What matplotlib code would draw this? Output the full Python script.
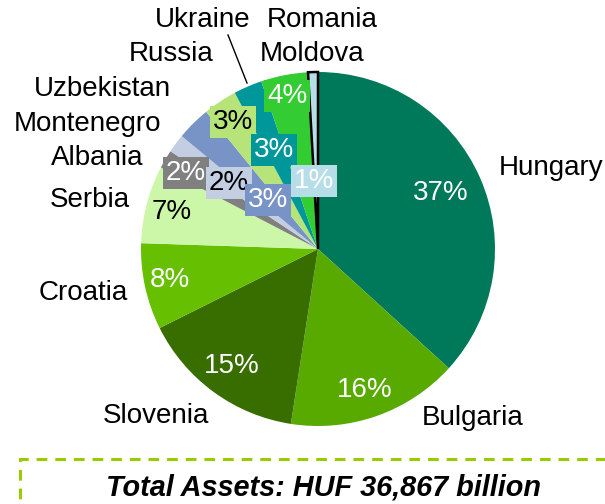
import matplotlib
matplotlib.use('Agg')
import matplotlib.pyplot as plt
from matplotlib.patches import Rectangle

plt.rcParams['font.family'] = ['Liberation Sans', 'DejaVu Sans']

# data (share of total assets, %)
countries = ['Hungary', 'Bulgaria', 'Slovenia', 'Croatia', 'Serbia', 'Albania',
             'Montenegro', 'Uzbekistan', 'Russia', 'Ukraine', 'Romania', 'Moldova']
shares = [36.8, 15.7, 15.2, 7.9, 7.1, 1.7, 1.7, 3.1, 3.1, 2.6, 4.3, 0.9]
total_text = 'Total Assets: HUF 36,867 billion'

colors = ['#00785A', '#58AA00', '#386E00', '#66BF00', '#CCF7A8', '#808080',
          '#C3CEE2', '#7893C6', '#B6E478', '#00979A', '#33CC33', '#B7DEE8']
pct_colors = ['white', 'white', 'white', 'white', 'black', 'white',
              'black', 'white', 'black', 'white', 'white', 'white']
boxed = [False, False, False, False, False, True, True, True, True, True, True, True]

# label positions in pixels (x from left, y from top)
pct_pos = [(441, 193), (365, 390), (232, 366), (170, 280), (172, 212), (186, 173),
           (229, 183), (268, 200), (233, 122), (274, 150), (287, 96), (314, 181)]
name_pos = [(551, 168), (473, 418), (156, 416), (83, 293), (90, 200), (97, 158),
            (88, 124), (102, 89), (171, 54), (203, 20), (322, 20), (312, 54)]

W, H = 605, 504
cx, cy, R = 318, 249, 177


def px(x, y):
    return (x - cx) / R, (cy - y) / R


fig = plt.figure(figsize=(W / 100, H / 100), dpi=100)
ax = fig.add_axes([0, 0, 1, 1])

wedges, _ = ax.pie(shares, colors=colors, startangle=90, counterclock=False,
                   radius=1, wedgeprops=dict(linewidth=0))
wedges[-1].set_edgecolor('black')
wedges[-1].set_linewidth(1.8)

total = sum(shares)
for i, s in enumerate(shares):
    x, y = px(*pct_pos[i])
    bbox = dict(boxstyle='square,pad=0.12', fc=colors[i], ec='none') if boxed[i] else None
    ax.text(x, y, '%.0f%%' % (s / total * 100), ha='center', va='center',
            fontsize=20, color=pct_colors[i], bbox=bbox)
    nx, ny = px(*name_pos[i])
    ax.text(nx, ny, countries[i], ha='center', va='center', fontsize=20, color='black')

# leader line for Ukraine
ax.plot(*zip(px(228, 35), px(247, 83)), color='black', lw=1)

# dashed box with total
x0, y0 = px(20, 459)
x1, y1 = px(640, 540)
ax.add_patch(Rectangle((x0, y1), x1 - x0, y0 - y1, fill=False, ec='#99CC00',
                       lw=2.2, ls=(0, (3.5, 2.6)), clip_on=False))
tx, ty = px(323, 487)
ax.text(tx, ty, total_text, ha='center', va='center', fontsize=20.8,
        fontweight='bold', fontstyle='italic')

ax.set_xlim(-cx / R, (W - cx) / R)
ax.set_ylim(-(H - cy) / R, cy / R)
ax.set_aspect('auto')
ax.axis('off')

fig.savefig('out.png', dpi=100)
